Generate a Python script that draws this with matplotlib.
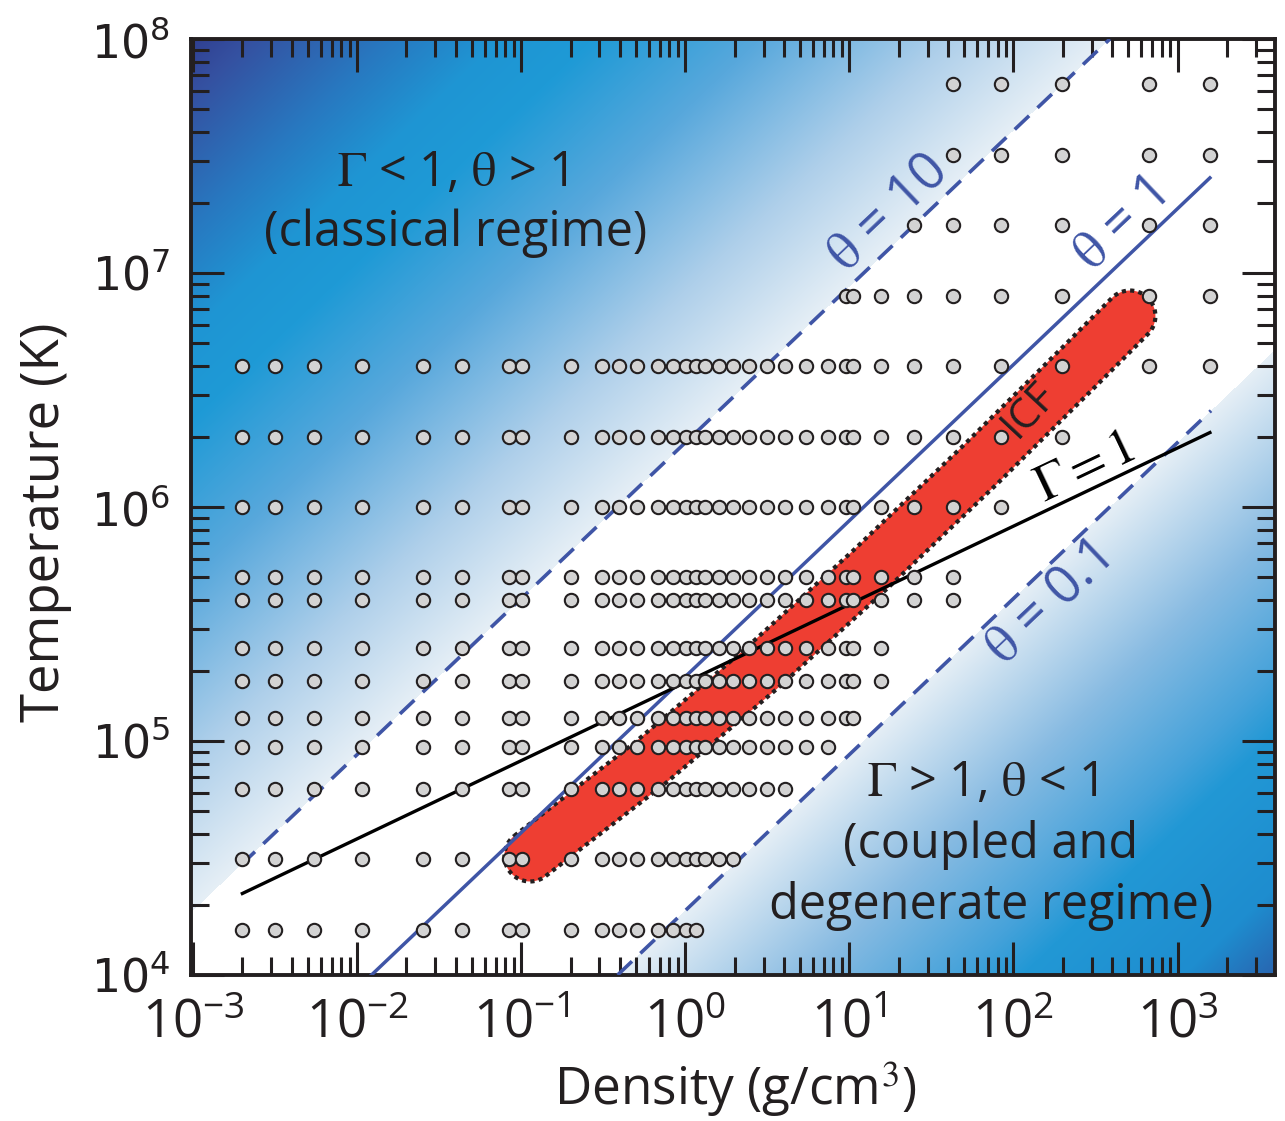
import numpy as np
import matplotlib
matplotlib.use("Agg")
import matplotlib.pyplot as plt
from matplotlib.ticker import FixedLocator, NullFormatter, LogFormatterSciNotation
from matplotlib.colors import to_rgb

plt.rcParams['font.family'] = ['Open Sans', 'DejaVu Sans']
plt.rcParams['mathtext.fontset'] = 'stix'

# ---------------- data ----------------
# density columns of the simulation grid (g/cm^3)
density_grid = [0.002, 0.00316, 0.00546, 0.0107, 0.0253, 0.0436, 0.0846, 0.1007,
                0.201, 0.31, 0.394, 0.509, 0.679, 0.845, 1.01, 1.16, 1.32, 1.61,
                1.96, 2.45, 3.13, 4.05, 5.42, 7.44, 9.53, 10.5, 15.7, 24.9, 43.0,
                83.9, 198.0, 670.0, 1575.0]
# temperature rows (K) and the first/last density column used in each row
temp_rows = [6.4e7, 3.2e7, 1.6e7, 8.0e6, 4.0e6, 2.0e6, 1.0e6, 5.0e5, 4.0e5,
             2.5e5, 1.8e5, 1.25e5, 9.4e4, 6.25e4, 3.125e4, 1.5625e4]
row_first = [28, 28, 27, 24, 0, 0, 0, 0, 0, 0, 0, 0, 0, 0, 0, 0]
row_last = [32, 32, 32, 32, 32, 30, 29, 28, 28, 26, 26, 25, 23, 21, 18, 15]

# boundary lines (end points)
theta10_rho = [1.95e-3, 387.0]
theta10_T = [2.94e4, 1.0e8]
theta1_rho = [1.224e-2, 1575.0]
theta1_T = [1.0e4, 2.55e7]
theta01_rho = [0.387, 1600.0]
theta01_T = [1.0e4, 2.58e6]
gamma1_rho = [2.0e-3, 1575.0]
gamma1_T = [2.23e4, 2.08e6]

# ICF path (centre line of the band)
icf_rho = [0.1131, 0.6093, 2.844, 13.31, 62.5, 254.2, 512.8]
icf_T = [3.225e4, 8.05e4, 2.011e5, 5.38e5, 1.512e6, 4.005e6, 6.55e6]

# axis ticks
x_decades = [-3, -2, -1, 0, 1, 2, 3]
y_decades = [4, 5, 6, 7, 8]

# background gradient stops, in log10(theta) away from theta = 1
up_stops = [1.0, 1.65, 2.42, 3.1, 3.48, 3.93, 4.5, 4.8]
up_colors = ['#E6EFF6', '#AECFEA', '#58A8DC', '#1E9AD6', '#1F95D3', '#2878C0', '#3550A0', '#2E3A8C']
lo_stops = [1.0, 1.77, 2.39, 2.64, 3.3, 3.75]
lo_colors = ['#E6EFF6', '#88BBE2', '#45A2DA', '#2298D5', '#1E8DCF', '#2B5CA9']

BLUE = '#3F55A6'
RED = '#EE3E32'
INK = '#231F20'

# ---------------- layout ----------------
W_PX, H_PX = 1285, 1121
ax_l, ax_r, ax_t, ax_b = 191, 1275, 39, 975
rect = [ax_l / W_PX, 1 - ax_b / H_PX, (ax_r - ax_l) / W_PX, (ax_b - ax_t) / H_PX]
X0, X1 = -3.012, 3.594
Y0, Y1 = 4.0, 8.0
sx = (ax_r - ax_l) / (X1 - X0)
sy = (ax_b - ax_t) / (Y1 - Y0)

fig = plt.figure(figsize=(W_PX / 100, H_PX / 100), dpi=100)

# ---------------- background gradient ----------------
bg = fig.add_axes(rect, zorder=0)
bg.set_axis_off()
nx, ny = ax_r - ax_l, ax_b - ax_t
lr = X0 + (np.arange(nx) + 0.5) / nx * (X1 - X0)
lt = Y1 - (np.arange(ny) + 0.5) / ny * (Y1 - Y0)
LR, LT = np.meshgrid(lr, lt)
k = (np.log10(theta1_T[1]) - np.log10(theta1_T[0])) / (np.log10(theta1_rho[1]) - np.log10(theta1_rho[0]))
b0 = np.log10(theta1_T[0]) - k * np.log10(theta1_rho[0])
lth = LT - (b0 + k * LR)


def ramp(vals, stops, colors):
    cols = np.array([to_rgb(c) for c in colors])
    return np.stack([np.interp(vals, stops, cols[:, i]) for i in range(3)], axis=-1)


img = np.ones((ny, nx, 3))
up = lth >= 1.0
img[up] = ramp(lth[up], up_stops, up_colors)
lo = lth <= -1.0
img[lo] = ramp(-lth[lo], lo_stops, lo_colors)
bg.imshow(img, extent=[X0, X1, Y0, Y1], origin='upper', aspect='auto', interpolation='nearest')
bg.set_xlim(X0, X1)
bg.set_ylim(Y0, Y1)

# ---------------- main axes ----------------
ax = fig.add_axes(rect, zorder=1)
ax.set_facecolor('none')
ax.set_xscale('log')
ax.set_yscale('log')

# lines
ax.plot(theta10_rho, theta10_T, color=BLUE, lw=2.6, dashes=(5.5, 3.2), zorder=3)
ax.plot(theta1_rho, theta1_T, color=BLUE, lw=2.5, zorder=3)
ax.plot(theta01_rho, theta01_T, color=BLUE, lw=2.6, dashes=(5.5, 3.2), zorder=3)
ax.plot(gamma1_rho, gamma1_T, color='black', lw=2.4, zorder=4)


# ICF band: rounded band around the centre line
def band_polygon(rho, T, half):
    P = np.column_stack([np.log10(rho) * sx, np.log10(T) * sy])
    d = np.diff(P, axis=0)
    tang = d / np.linalg.norm(d, axis=1)[:, None]
    nseg = np.column_stack([-tang[:, 1], tang[:, 0]])
    vn = np.zeros_like(P)
    vn[0] = nseg[0]
    vn[-1] = nseg[-1]
    for i in range(1, len(P) - 1):
        n = nseg[i - 1] + nseg[i]
        n /= np.linalg.norm(n)
        vn[i] = n / np.dot(n, nseg[i])
    left = P + half * vn
    right = P - half * vn
    a_end = np.arctan2(vn[-1][1], vn[-1][0])
    ang = a_end - np.linspace(0, np.pi, 30)
    cap_end = P[-1] + half * np.column_stack([np.cos(ang), np.sin(ang)])
    a_st = np.arctan2(vn[0][1], vn[0][0])
    ang = a_st + np.pi - np.linspace(0, np.pi, 30)
    cap_st = P[0] + half * np.column_stack([np.cos(ang), np.sin(ang)])
    poly = np.vstack([left, cap_end, right[::-1], cap_st, left[:1]])
    return 10 ** (poly[:, 0] / sx), 10 ** (poly[:, 1] / sy)


px_r, px_T = band_polygon(icf_rho, icf_T, 25.5)
ax.fill(px_r, px_T, color=RED, lw=0, zorder=2.5)
ax.plot(px_r, px_T, color=INK, lw=3.0, ls=(0, (1.0, 1.0)), zorder=2.6)

# grid points
for T, i0, i1 in zip(temp_rows, row_first, row_last):
    xs = density_grid[i0:i1 + 1]
    ax.plot(xs, [T] * len(xs), ls='none', marker='o', ms=9.6, mfc='#D3D3D3',
            mec=INK, mew=1.5, zorder=6)

# ---------------- texts ----------------
rot_theta = np.degrees(np.arctan(k * sy / sx))
rot_gamma = np.degrees(np.arctan((1 / 3) * sy / sx))
ax.text(17.2, 1.80e7, r'$\mathrm{\theta}$ = 10', color=BLUE, fontsize=38, rotation=rot_theta,
        rotation_mode='anchor', ha='center', va='center', zorder=7)
ax.text(446, 1.59e7, r'$\mathrm{\theta}$ = 1', color=BLUE, fontsize=38, rotation=rot_theta,
        rotation_mode='anchor', ha='center', va='center', zorder=7)
ax.text(162.5, 3.81e5, r'$\mathrm{\theta}$ = 0.1', color=BLUE, fontsize=38, rotation=rot_theta,
        rotation_mode='anchor', ha='center', va='center', zorder=7)
ax.text(273, 1.47e6, r'$\Gamma = 1$', color='black', fontsize=37, rotation=rot_gamma,
        rotation_mode='anchor', ha='center', va='center', zorder=7)
ax.text(124, 2.6e6, 'ICF', color=INK, fontsize=30, rotation=47,
        rotation_mode='anchor', ha='center', va='center', zorder=7)

ax.text(0.0379, 2.67e7, r'$\Gamma$ < 1, $\mathrm{\theta}$ > 1', color=INK, fontsize=35,
        ha='center', va='center', zorder=7)
ax.text(0.0401, 1.48e7, '(classical regime)', color=INK, fontsize=35,
        ha='center', va='center', zorder=7)
ax.text(64.3, 6.62e4, r'$\Gamma$ > 1, $\mathrm{\theta}$ < 1', color=INK, fontsize=35,
        ha='center', va='center', zorder=7)
ax.text(72.9, 3.59e4, '(coupled and', color=INK, fontsize=35,
        ha='center', va='center', zorder=7)
ax.text(72.9, 1.97e4, 'degenerate regime)', color=INK, fontsize=35,
        ha='center', va='center', zorder=7)

# ---------------- axes styling ----------------
ax.set_xlim(10 ** X0, 10 ** X1)
ax.set_ylim(10 ** Y0, 10 ** Y1)
x_major = [10.0 ** e for e in x_decades]
y_major = [10.0 ** e for e in y_decades]
x_minor = [m * 10.0 ** e for e in range(-4, 4) for m in range(2, 10)
           if 10 ** X0 <= m * 10.0 ** e <= 10 ** X1]
y_minor = [m * 10.0 ** e for e in range(4, 8) for m in range(2, 10)]
ax.xaxis.set_major_locator(FixedLocator(x_major))
ax.xaxis.set_minor_locator(FixedLocator(x_minor))
ax.yaxis.set_major_locator(FixedLocator(y_major))
ax.yaxis.set_minor_locator(FixedLocator(y_minor))
ax.xaxis.set_major_formatter(LogFormatterSciNotation())
ax.yaxis.set_major_formatter(LogFormatterSciNotation())
ax.xaxis.set_minor_formatter(NullFormatter())
ax.yaxis.set_minor_formatter(NullFormatter())

ax.tick_params(which='both', direction='in', top=True, right=True, color=INK, width=2.2)
ax.tick_params(which='major', length=23.5)
ax.tick_params(which='minor', length=13)
ax.tick_params(axis='x', which='major', labelsize=38, pad=16, labelcolor=INK)
ax.tick_params(axis='y', which='major', labelsize=33, pad=15, labelcolor=INK)
for lab in ax.get_yticklabels():
    lab.set_fontfamily(['DejaVu Sans'])
for sp in ax.spines.values():
    sp.set_linewidth(2.8)
    sp.set_color(INK)

ax.set_ylabel('Temperature (K)', fontsize=38, color=INK)
ax.yaxis.set_label_coords(-0.1098, 0.484)
ax.set_xlabel('Density (g/cm$^3$)', fontsize=37, color=INK)
ax.xaxis.set_label_coords(0.502, -0.090)

fig.savefig('out.png', dpi=100)
